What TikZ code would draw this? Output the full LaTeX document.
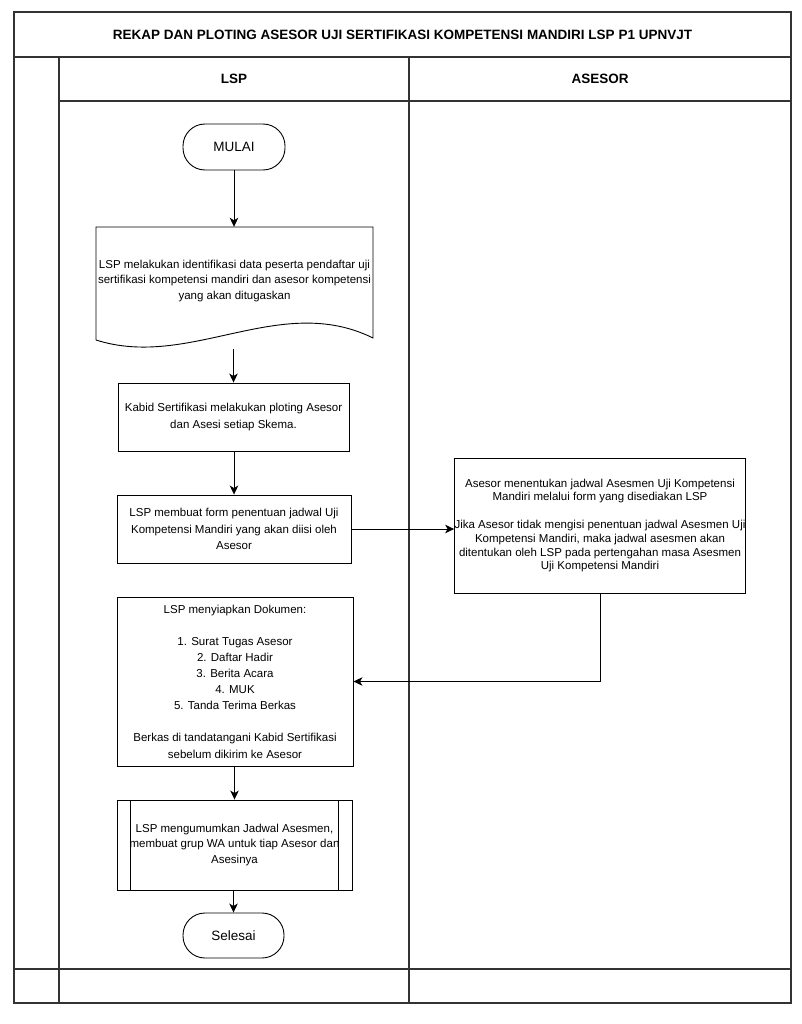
\documentclass[tikz,border=0pt]{standalone}
\usepackage{fontspec}
\setmainfont{Liberation Sans}
\usetikzlibrary{arrows.meta}
\begin{document}
\begin{tikzpicture}[x=1pt,y=-1pt,
  boxnode/.style={draw, line width=0.9pt, align=center, inner sep=0pt},
  term/.style={draw, line width=0.9pt, rounded corners=22pt, font=\fontsize{13.5}{16}\selectfont, inner sep=0pt},
  hdr/.style={font=\bfseries\fontsize{13.5}{16}\selectfont},
  frameline/.style={line width=1.2pt, draw=black!80},
  flow/.style={line width=0.9pt, -{Stealth[length=9pt,width=8.5pt,inset=2.5pt]}},
]
\useasboundingbox (0,0) rectangle (802,1024);
% frame
\draw[frameline] (14,12) rectangle (791,1003);
\draw[frameline] (14,57) -- (791,57);
\draw[frameline] (59,101) -- (791,101);
\draw[frameline] (14,969) -- (791,969);
\draw[frameline] (59,57) -- (59,1003);
\draw[frameline] (409,57) -- (409,1003);
\node[hdr] (title) at (402.5,34.5) {REKAP DAN PLOTING ASESOR UJI SERTIFIKASI KOMPETENSI MANDIRI LSP P1 UPNVJT};
\node[hdr] (hlsp) at (234,79) {LSP};
\node[hdr] (hases) at (600,79) {ASESOR};
% flow nodes
\node[term, minimum width=102pt, minimum height=46pt] (mulai) at (234,147) {MULAI};
\node[minimum width=277pt, minimum height=122pt, inner sep=0pt] (doc) at (234.5,288) {};
\draw[line width=0.9pt] (96,340) -- (96,227) -- (373,227) -- (373,338)
  .. controls (280,292) and (190,370) .. (96,340);
\node[align=center, font=\fontsize{11.5}{15.5}\selectfont] (doctext) at (234.5,281)
  {LSP melakukan identifikasi data peserta pendaftar uji\\sertifikasi kompetensi mandiri dan asesor kompetensi\\yang akan ditugaskan};
\node[boxnode, minimum width=231pt, minimum height=68pt, font=\fontsize{11.5}{17}\selectfont] (plot) at (233.5,417)
  {Kabid Sertifikasi melakukan ploting Asesor\\dan Asesi setiap Skema.};
\node[boxnode, minimum width=234pt, minimum height=68pt, font=\fontsize{11.5}{16.8}\selectfont] (form) at (234,529)
  {LSP membuat form penentuan jadwal Uji\\Kompetensi Mandiri yang akan diisi oleh\\Asesor};
\node[boxnode, minimum width=290pt, minimum height=135pt, font=\fontsize{11.5}{13.8}\selectfont] (ases) at (600,525.5)
  {Asesor menentukan jadwal Asesmen Uji Kompetensi\\Mandiri melalui form yang disediakan LSP\\[13.8pt]Jika Asesor tidak mengisi penentuan jadwal Asesmen Uji\\Kompetensi Mandiri, maka jadwal asesmen akan\\ditentukan oleh LSP pada pertengahan masa Asesmen\\Uji Kompetensi Mandiri};
\node[boxnode, minimum width=236pt, minimum height=169pt, font=\fontsize{11.5}{16.1}\selectfont] (dok) at (235,681.5)
  {LSP menyiapkan Dokumen:\\[16.1pt]1. Surat Tugas Asesor\\2. Daftar Hadir\\3. Berita Acara\\4. MUK\\5. Tanda Terima Berkas\\[16.1pt]Berkas di tandatangani Kabid Sertifikasi\\sebelum dikirim ke Asesor};
\node[boxnode, minimum width=235pt, minimum height=90pt, font=\fontsize{11.5}{15.8}\selectfont] (umum) at (234.5,845)
  {LSP mengumumkan Jadwal Asesmen,\\membuat grup WA untuk tiap Asesor dan\\Asesinya};
\draw[line width=0.9pt] ([xshift=14pt]umum.north west) -- ([xshift=14pt]umum.south west);
\draw[line width=0.9pt] ([xshift=-14pt]umum.north east) -- ([xshift=-14pt]umum.south east);
\node[term, minimum width=101pt, minimum height=45pt] (selesai) at (233.5,935.5) {Selesai};
% connectors
\draw[flow] (mulai.south) -- (mulai.south |- doc.north);
\draw[flow] (doc.south -| plot.north) -- (plot.north);
\draw[flow] (plot.south -| form.north) -- (form.north);
\draw[flow] (form.east) -- (form.east -| ases.west);
\draw[flow] (ases.south) |- (dok.east);
\draw[flow] (dok.south -| umum.north) -- (umum.north);
\draw[flow] (umum.south -| selesai.north) -- (selesai.north);
\end{tikzpicture}
\end{document}
